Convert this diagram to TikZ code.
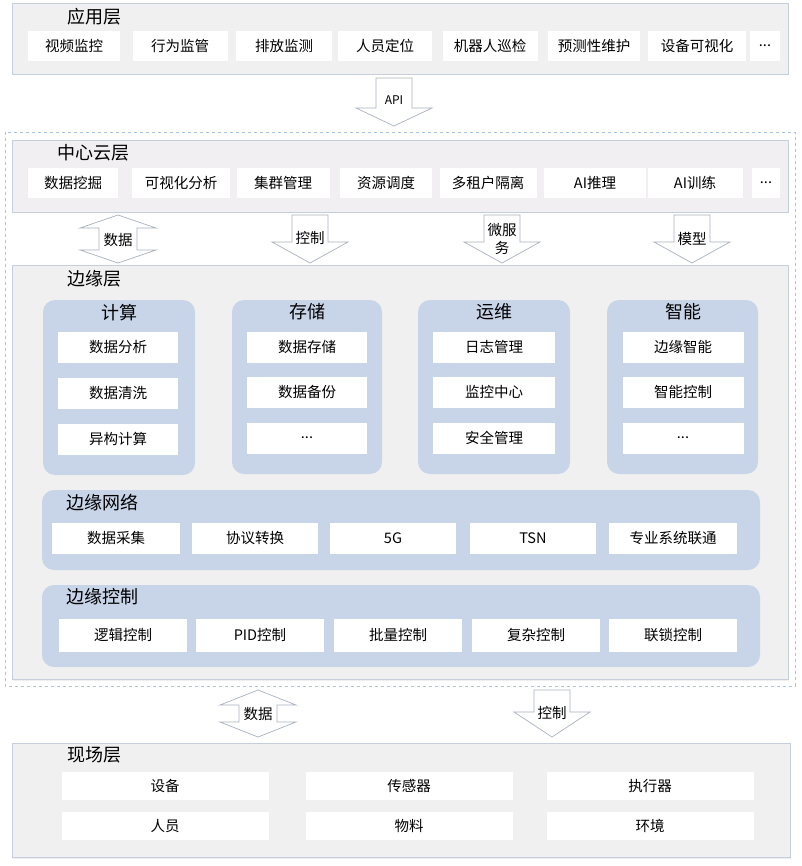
\documentclass[tikz,border=0pt]{standalone}
\usepackage{fontspec}
\newfontfamily\cjk{Noto Sans CJK SC}
\usetikzlibrary{shadows}
\definecolor{layerfill}{HTML}{F0F0F0}
\definecolor{cloudfill}{HTML}{F2EFF2}
\definecolor{layerline}{HTML}{C5CEDB}
\definecolor{grpfill}{HTML}{C8D4E8}
\definecolor{arrowline}{HTML}{A8B2C0}
\definecolor{dashline}{HTML}{A9C4E0}
\newcommand\dnarrow[4]{% cx, top, heady, tip
  \draw[blockarrow] ({#1-18},#2) -- ({#1+18},#2) -- ({#1+18},#3) -- ({#1+38},#3) -- (#1,#4) -- ({#1-38},#3) -- ({#1-18},#3) -- cycle;}
\newcommand\dbarrow[5]{% cx, top, hb1, hb2, bottom
  \draw[blockarrow] (#1,#2) -- ({#1+38},#3) -- ({#1+19},#3) -- ({#1+19},#4) -- ({#1+38},#4) -- (#1,#5) -- ({#1-38},#4) -- ({#1-19},#4) -- ({#1-19},#3) -- ({#1-38},#3) -- cycle;}
\begin{document}
\begin{tikzpicture}[x=1pt,y=-1pt,
  every node/.style={font=\cjk\fontsize{14.5}{17}\selectfont, text=black, inner sep=0pt},
  layer/.style={draw=layerline, fill=layerfill, line width=0.8pt, drop shadow={opacity=0.12, shadow xshift=1pt, shadow yshift=-1.5pt}},
  itembox/.style={fill=white, minimum height=30pt},
  ttl/.style={font=\cjk\fontsize{18}{20}\selectfont, anchor=west},
  grp/.style={fill=grpfill, rounded corners=12pt},
  blockarrow/.style={draw=arrowline, fill=white, line width=0.7pt},
]
\useasboundingbox (0,0) rectangle (801,866);
\fill[white] (0,0) rectangle (801,866);

% ---------- application layer
\draw[layer] (12,3) rectangle (788,74);
\node[ttl] (appT) at (67,17) {应用层};
\node[itembox, minimum width=92pt] (a1) at (74,46) {视频监控};
\node[itembox, minimum width=95pt] (a2) at (180,46) {行为监管};
\node[itembox, minimum width=96pt] (a3) at (284,46) {排放监测};
\node[itembox, minimum width=94pt] (a4) at (385,46) {人员定位};
\node[itembox, minimum width=95pt] (a5) at (490,46) {机器人巡检};
\node[itembox, minimum width=92pt] (a6) at (594,46) {预测性维护};
\node[itembox, minimum width=98pt] (a7) at (697,46) {设备可视化};
\node[itembox, minimum width=30pt] (a8) at (765,46) {...};

% API arrow
\dnarrow{394}{78}{108}{126}
\node[font=\cjk\fontsize{12}{14}\selectfont] (api) at (394,100) {API};

% ---------- dashed outer frame
\draw[dashline, dashed, line width=0.7pt] (5,132) rectangle (795,686);

% ---------- cloud layer
\draw[layer, fill=cloudfill] (12,140) rectangle (788,212);
\node[ttl] (cloudT) at (57,153) {中心云层};
\node[itembox, minimum width=90pt] (c1) at (73,183) {数据挖掘};
\node[itembox, minimum width=98pt] (c2) at (181,183) {可视化分析};
\node[itembox, minimum width=93pt] (c3) at (283,183) {集群管理};
\node[itembox, minimum width=92pt] (c4) at (386,183) {资源调度};
\node[itembox, minimum width=97pt] (c5) at (488,183) {多租户隔离};
\node[itembox, minimum width=102pt] (c6) at (595,183) {AI推理};
\node[itembox, minimum width=95pt] (c7) at (695,183) {AI训练};
\node[itembox, minimum width=28pt] (c8) at (766,183) {...};

% arrows cloud <-> edge
\dbarrow{118}{215}{228}{250}{263}
\node (dataU) at (118,240) {数据};
\dnarrow{310}{215}{242}{263}
\node (ctrlU) at (310,238) {控制};
\dnarrow{502}{215}{242}{263}
\node[align=center, font=\cjk\fontsize{14.5}{18}\selectfont] (msvc) at (502,239) {微服\\务};
\dnarrow{692}{215}{242}{263}
\node (model) at (692,239) {模型};

% ---------- edge layer
\draw[layer] (12,265) rectangle (788,679);
\node[ttl] (edgeT) at (67,279) {边缘层};

% groups
\fill[grp] (43,300) rectangle (195,475);
\fill[grp] (232,300) rectangle (382,474);
\fill[grp] (418,300) rectangle (570,474);
\fill[grp] (607,300) rectangle (758,474);
\node[font=\cjk\fontsize{18}{20}\selectfont] (g1) at (119,313) {计算};
\node[font=\cjk\fontsize{18}{20}\selectfont] (g2) at (307,312) {存储};
\node[font=\cjk\fontsize{18}{20}\selectfont] (g3) at (494,312) {运维};
\node[font=\cjk\fontsize{18}{20}\selectfont] (g4) at (683,312) {智能};

\node[itembox, minimum width=120pt, minimum height=31pt] (g1a) at (118,347) {数据分析};
\node[itembox, minimum width=120pt, minimum height=31pt] (g1b) at (118,393) {数据清洗};
\node[itembox, minimum width=120pt, minimum height=31pt] (g1c) at (118,439) {异构计算};
\node[itembox, minimum width=120pt, minimum height=31pt] (g2a) at (307,347) {数据存储};
\node[itembox, minimum width=120pt, minimum height=31pt] (g2b) at (307,392) {数据备份};
\node[itembox, minimum width=120pt, minimum height=31pt] (g2c) at (307,438) {...};
\node[itembox, minimum width=122pt, minimum height=31pt] (g3a) at (494,347) {日志管理};
\node[itembox, minimum width=122pt, minimum height=31pt] (g3b) at (494,392) {监控中心};
\node[itembox, minimum width=122pt, minimum height=31pt] (g3c) at (494,438) {安全管理};
\node[itembox, minimum width=121pt, minimum height=31pt] (g4a) at (683,347) {边缘智能};
\node[itembox, minimum width=121pt, minimum height=31pt] (g4b) at (683,392) {智能控制};
\node[itembox, minimum width=121pt, minimum height=31pt] (g4c) at (683,438) {...};

% edge network
\fill[grp] (42,490) rectangle (760,570);
\node[ttl] (netT) at (66,503) {边缘网络};
\node[itembox, minimum width=128pt, minimum height=31pt] (n1) at (116,538) {数据采集};
\node[itembox, minimum width=126pt, minimum height=31pt] (n2) at (255,538) {协议转换};
\node[itembox, minimum width=126pt, minimum height=31pt] (n3) at (393,538) {5G};
\node[itembox, minimum width=126pt, minimum height=31pt] (n4) at (533,538) {TSN};
\node[itembox, minimum width=128pt, minimum height=31pt] (n5) at (673,538) {专业系统联通};

% edge control
\fill[grp] (42,585) rectangle (760,667);
\node[ttl] (ctlT) at (66,597) {边缘控制};
\node[itembox, minimum width=128pt, minimum height=33pt] (k1) at (123,635) {逻辑控制};
\node[itembox, minimum width=128pt, minimum height=33pt] (k2) at (260,635) {PID控制};
\node[itembox, minimum width=128pt, minimum height=33pt] (k3) at (398,635) {批量控制};
\node[itembox, minimum width=128pt, minimum height=33pt] (k4) at (536,635) {复杂控制};
\node[itembox, minimum width=128pt, minimum height=33pt] (k5) at (673,635) {联锁控制};

% arrows edge <-> field
\dbarrow{258}{690}{705}{722}{737}
\node (dataL) at (258,714) {数据};
\dnarrow{552}{690}{712}{737}
\node (ctrlL) at (552,713) {控制};

% ---------- field layer
\draw[layer] (12,743) rectangle (790,857);
\node[ttl] (fieldT) at (67,755) {现场层};
\node[itembox, minimum width=207pt, minimum height=28pt] (f1) at (165,786) {设备};
\node[itembox, minimum width=207pt, minimum height=28pt] (f2) at (409,786) {传感器};
\node[itembox, minimum width=207pt, minimum height=28pt] (f3) at (650,786) {执行器};
\node[itembox, minimum width=207pt, minimum height=28pt] (f4) at (165,826) {人员};
\node[itembox, minimum width=207pt, minimum height=28pt] (f5) at (409,826) {物料};
\node[itembox, minimum width=207pt, minimum height=28pt] (f6) at (650,826) {环境};
\end{tikzpicture}
\end{document}
